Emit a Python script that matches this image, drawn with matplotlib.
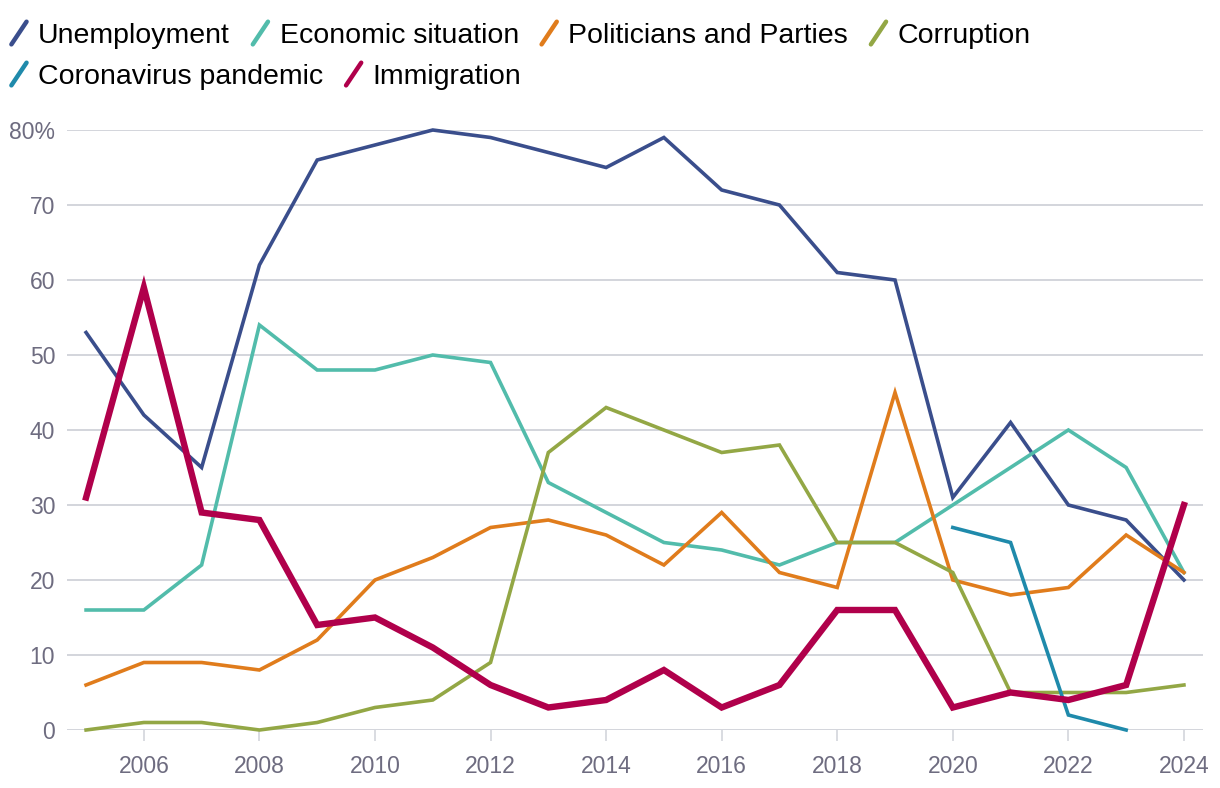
import matplotlib
matplotlib.use("Agg")
import matplotlib.pyplot as plt
from matplotlib.lines import Line2D
from matplotlib.legend_handler import HandlerBase

# data (percent)
years = list(range(2005, 2025))
unemployment = [53, 42, 35, 62, 76, 78, 80, 79, 77, 75, 79, 72, 70, 61, 60, 31, 41, 30, 28, 20]
economic = [16, 16, 22, 54, 48, 48, 50, 49, 33, 29, 25, 24, 22, 25, 25, 30, 35, 40, 35, 21]
politicians = [6, 9, 9, 8, 12, 20, 23, 27, 28, 26, 22, 29, 21, 19, 45, 20, 18, 19, 26, 21]
corruption = [0, 1, 1, 0, 1, 3, 4, 9, 37, 43, 40, 37, 38, 25, 25, 21, 5, 5, 5, 6]
corona_years = [2020, 2021, 2022, 2023]
coronavirus = [27, 25, 2, 0]
immigration = [31, 59, 29, 28, 14, 15, 11, 6, 3, 4, 8, 3, 6, 16, 16, 3, 5, 4, 6, 30]

yticks = [0, 10, 20, 30, 40, 50, 60, 70, 80]
ytick_labels = ["0", "10", "20", "30", "40", "50", "60", "70", "80%"]
xticks = list(range(2006, 2025, 2))

plt.rcParams["font.family"] = ["Liberation Sans", "DejaVu Sans"]

label_color = "#6e6c80"
grid_color = "#d3d5dc"


class SlashHandler(HandlerBase):
    # legend key drawn as a short diagonal stroke
    def create_artists(self, legend, orig_handle, xdescent, ydescent,
                       width, height, fontsize, trans):
        x0, y0 = -xdescent, -ydescent
        line = Line2D([x0 + 1, x0 + width - 1], [y0 - 1, y0 + height + 1],
                      color=orig_handle.get_color(), lw=3.2,
                      solid_capstyle="round", transform=trans)
        return [line]


fig = plt.figure(figsize=(12.2, 7.88), dpi=100)
ax = fig.add_axes([67 / 1220, 1 - 730 / 788, (1203 - 67) / 1220, 600 / 788])

l1, = ax.plot(years, unemployment, color="#3a4e8c", lw=2.6, clip_on=False, solid_joinstyle="miter")
l2, = ax.plot(years, economic, color="#52bcab", lw=2.6, clip_on=False, solid_joinstyle="miter")
l3, = ax.plot(years, politicians, color="#e07c1c", lw=2.6, clip_on=False, solid_joinstyle="miter")
l4, = ax.plot(years, corruption, color="#93a745", lw=2.6, clip_on=False, solid_joinstyle="miter")
l5, = ax.plot(corona_years, coronavirus, color="#1f8aab", lw=2.6, clip_on=False, solid_joinstyle="miter")
l6, = ax.plot(years, immigration, color="#b0004b", lw=4.6, clip_on=False, solid_joinstyle="miter")

ax.set_xlim(2004.67, 2024.33)
ax.set_ylim(0, 80)
ax.set_yticks(yticks)
ax.set_yticklabels(ytick_labels)
ax.set_xticks(xticks)
ax.tick_params(axis="y", length=0, pad=8.5, labelsize=16.5, labelcolor=label_color)
ax.tick_params(axis="x", length=8, width=1.2, color=grid_color, pad=10,
               labelsize=16.5, labelcolor=label_color)
ax.grid(axis="y", color=grid_color, lw=1.4)
ax.set_axisbelow(True)
for s in ax.spines.values():
    s.set_visible(False)

leg_kw = dict(frameon=False, fontsize=20.5, handlelength=0.63, handleheight=0.7,
              handletextpad=0.36, columnspacing=0.75, borderpad=0, borderaxespad=0,
              loc="center left", bbox_transform=fig.transFigure,
              handler_map={Line2D: SlashHandler()})
leg1 = fig.legend([l1, l2, l3, l4],
                  ["Unemployment", "Economic situation", "Politicians and Parties", "Corruption"],
                  ncol=4, bbox_to_anchor=(10 / 1220, 1 - 36 / 788), **leg_kw)
leg2 = fig.legend([l5, l6], ["Coronavirus pandemic", "Immigration"],
                  ncol=2, bbox_to_anchor=(10 / 1220, 1 - 77 / 788), **leg_kw)

fig.savefig("out.png", dpi=100)
